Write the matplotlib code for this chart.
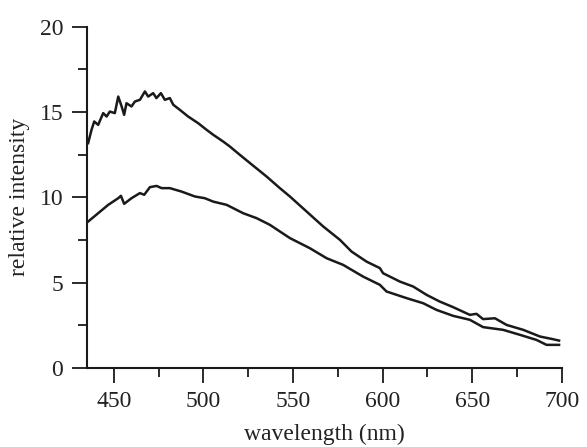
import numpy as np
import matplotlib.pyplot as plt
from matplotlib.ticker import MultipleLocator

plt.rcParams['font.family'] = ['Liberation Serif', 'DejaVu Serif']

# upper spectrum
wl_upper = [435.7, 437.6, 439.1, 441.3, 444.1, 446.0, 447.8, 450.6, 452.5, 454.4,
            455.8, 457.1, 459.9, 461.8, 464.6, 467.4, 469.2, 472.0, 473.8, 476.3,
            478.5, 481.3, 483.2, 486.9, 491.5, 497.1, 501.8, 505.5, 511.1, 514.8,
            520.4, 526.0, 535.3, 542.7, 548.3, 557.6, 566.9, 576.2, 582.7, 591.1,
            598.5, 600.3, 609.7, 617.1, 624.6, 631.9, 639.4, 648.7, 652.4, 656.1,
            662.7, 669.2, 678.5, 687.8, 695.2, 698.5]
int_upper = [13.18, 13.96, 14.45, 14.25, 14.94, 14.74, 15.03, 14.94, 15.91, 15.33,
             14.84, 15.52, 15.33, 15.62, 15.72, 16.21, 15.91, 16.11, 15.82, 16.11,
             15.72, 15.82, 15.43, 15.13, 14.74, 14.35, 13.96, 13.67, 13.27, 12.98,
             12.49, 12.01, 11.22, 10.54, 10.05, 9.17, 8.29, 7.51, 6.82, 6.23,
             5.85, 5.55, 5.06, 4.77, 4.28, 3.89, 3.56, 3.11, 3.17, 2.86,
             2.91, 2.52, 2.23, 1.84, 1.68, 1.60]

# lower spectrum
wl_lower = [435.7, 441.3, 446.9, 452.5, 454.0, 455.8, 459.9, 464.6, 467.0, 470.2,
            473.9, 476.7, 481.3, 487.8, 495.3, 500.8, 505.5, 513.0, 522.2, 529.7,
            537.1, 548.3, 559.4, 568.8, 578.0, 589.2, 598.5, 602.2, 613.4, 622.7,
            630.1, 639.4, 648.7, 656.1, 667.3, 676.6, 685.9, 691.5, 698.5]
int_lower = [8.58, 9.07, 9.56, 9.95, 10.09, 9.62, 9.95, 10.25, 10.15, 10.60,
             10.67, 10.54, 10.54, 10.34, 10.05, 9.95, 9.75, 9.56, 9.07, 8.78,
             8.39, 7.61, 7.02, 6.43, 6.04, 5.35, 4.87, 4.48, 4.09, 3.79,
             3.40, 3.05, 2.82, 2.39, 2.23, 1.94, 1.64, 1.35, 1.35]

fig = plt.figure(figsize=(5.87, 4.47), dpi=100)
ax = fig.add_axes([0.148, 0.177, 0.809, 0.763])

ax.plot(wl_upper, int_upper, color='#1a1a1a', lw=1.8)
ax.plot(wl_lower, int_lower, color='#1a1a1a', lw=1.8)

ax.set_xlim(435, 700)
ax.set_ylim(0, 20)
ax.xaxis.set_major_locator(MultipleLocator(50))
ax.xaxis.set_minor_locator(MultipleLocator(25))
ax.yaxis.set_major_locator(MultipleLocator(5))
ax.yaxis.set_minor_locator(MultipleLocator(2.5))

for s in ['top', 'right']:
    ax.spines[s].set_visible(False)
for s in ['left', 'bottom']:
    ax.spines[s].set_linewidth(1.5)
    ax.spines[s].set_color('#1a1a1a')

ax.tick_params(which='major', direction='out', length=10.5, width=1.3,
               color='#1a1a1a', labelsize=17, labelcolor='#222222', pad=6.5)
ax.tick_params(which='minor', direction='out', length=6.5, width=1.3,
               color='#1a1a1a')

ax.set_xlabel('wavelength (nm)', fontsize=17, color='#222222', labelpad=8)
ax.set_ylabel('relative intensity', fontsize=17, color='#222222', labelpad=7)

plt.savefig('out.png', dpi=100)
